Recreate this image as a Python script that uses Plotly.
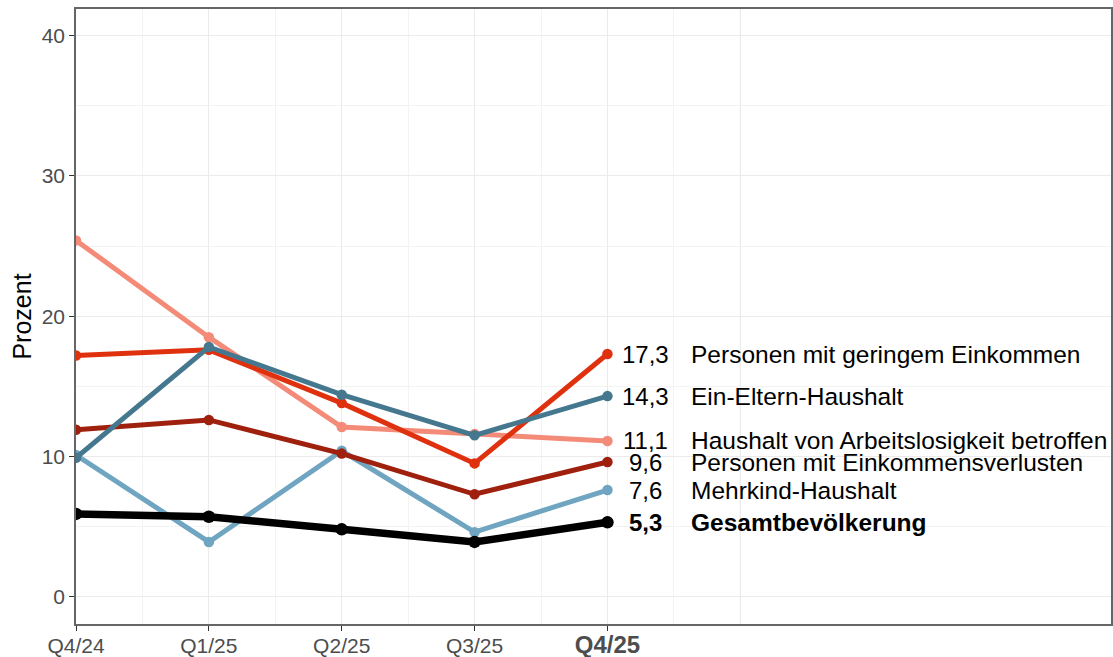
import plotly.graph_objects as go

quarters = ["Q4/24", "Q1/25", "Q2/25", "Q3/25", "Q4/25"]
tick_labels = ["Q4/24", "Q1/25", "Q2/25", "Q3/25", "<b><span style='font-size:24px'>Q4/25</span></b>"]

series_names = [
    "Haushalt von Arbeitslosigkeit betroffen",
    "Mehrkind-Haushalt",
    "Personen mit Einkommensverlusten",
    "Personen mit geringem Einkommen",
    "Ein-Eltern-Haushalt",
    "Gesamtbevölkerung",
]
arbeitslos = [25.4, 18.5, 12.1, 11.6, 11.1]
mehrkind = [10.1, 3.9, 10.4, 4.6, 7.6]
verluste = [11.9, 12.6, 10.2, 7.3, 9.6]
gering = [17.2, 17.6, 13.8, 9.5, 17.3]
eineltern = [9.9, 17.8, 14.4, 11.5, 14.3]
gesamt = [5.9, 5.7, 4.8, 3.9, 5.3]
series_values = [arbeitslos, mehrkind, verluste, gering, eineltern, gesamt]
colors = ["#F48B78", "#6FA5C0", "#A0200E", "#E0310F", "#45788F", "#000000"]

FONT = "Liberation Sans, Arial, sans-serif"
xpos = list(range(len(quarters)))

fig = go.Figure()
for name, vals, col in zip(series_names, series_values, colors):
    bold = name == "Gesamtbevölkerung"
    fig.add_trace(go.Scatter(
        x=xpos, y=vals, mode="lines+markers", name=name,
        line=dict(color=col, width=7.5 if bold else 5),
        marker=dict(color=col, size=12.5 if bold else 10.5),
        showlegend=False, cliponaxis=True,
    ))

last = len(quarters) - 1
for name, vals in zip(series_names, series_values):
    bold = name == "Gesamtbevölkerung"
    num = f"{vals[-1]:.1f}".replace(".", ",")
    fig.add_annotation(x=last + 0.29, y=vals[-1], text=f"<b>{num}</b>" if bold else num,
                       showarrow=False, xanchor="center", yanchor="middle",
                       font=dict(family=FONT, size=24, color="black"))
    fig.add_annotation(x=last + 0.61, y=vals[-1], text=f"<b>{name}</b>" if bold else name,
                       showarrow=False, xanchor="left", yanchor="middle",
                       font=dict(family=FONT, size=24.5, color="black"))

# extra vertical gridline beyond last category
fig.add_shape(type="line", xref="x", yref="paper", x0=5, x1=5, y0=0, y1=1,
              line=dict(color="#EBEBEB", width=1.2), layer="below")

fig.update_layout(
    width=1113, height=657,
    margin=dict(l=76, r=2, t=9, b=33),
    paper_bgcolor="white", plot_bgcolor="white",
    font=dict(family=FONT, color="#4D4D4D"),
)
fig.update_xaxes(
    automargin=False,
    range=[0, 7.79], tickmode="array", tickvals=xpos, ticktext=tick_labels,
    tickfont=dict(family=FONT, size=21, color="#4D4D4D"),
    ticklabelstandoff=-3,
    showgrid=True, gridcolor="#EBEBEB", gridwidth=1.2,
    minor=dict(tickmode="array", tickvals=[0.5, 1.5, 2.5, 3.5, 4.5], showgrid=True,
               gridcolor="#F3F3F3", gridwidth=0.8, ticks=""),
    ticks="outside", ticklen=5, tickcolor="#333333", tickwidth=1.2,
    showline=True, linecolor="#666666", linewidth=1.5, mirror=True,
    zeroline=False,
)
fig.update_yaxes(
    automargin=False,
    range=[-1.95, 41.9], tickmode="array", tickvals=[0, 10, 20, 30, 40],
    tickfont=dict(family=FONT, size=21, color="#4D4D4D"),
    showgrid=True, gridcolor="#EBEBEB", gridwidth=1.2,
    minor=dict(tickmode="array", tickvals=[5, 15, 25, 35], showgrid=True,
               gridcolor="#F3F3F3", gridwidth=0.8, ticks=""),
    ticks="outside", ticklen=5, tickcolor="#333333", tickwidth=1.2,
    showline=True, linecolor="#666666", linewidth=1.5, mirror=True,
    zeroline=False,
    title=dict(text="Prozent", font=dict(family=FONT, size=25, color="black"), standoff=3),
)

fig.write_html(
    "out.html",
    config={"displayModeBar": False},
    post_script="document.body.style.margin='0';document.body.style.overflow='hidden';",
)
